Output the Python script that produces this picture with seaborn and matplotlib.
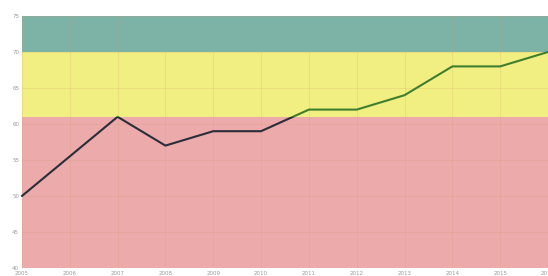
import matplotlib
matplotlib.use('Agg')
import matplotlib.pyplot as plt
import numpy as np
import pandas as pd
import seaborn as sns
from matplotlib.patches import Rectangle

# data
years = ['2005', '2006', '2007', '2008', '2009', '2010',
         '2011', '2012', '2013', '2014', '2015', '2016']
values = [50, 55.5, 61, 57, 59, 59, 62, 62, 64, 68, 68, 70]

# coloured bands (lower, upper, colour)
band_edges = [40, 61, 70, 75]
band_colors = ['#ecaaaa', '#f2ef82', '#7cb3a6']
line_colors = ['#2b2d3a', '#3f7e2e', '#2f6f86']

df = pd.DataFrame({'x': np.arange(len(years)), 'value': values})

sns.set_theme(style='white')
fig = plt.figure(figsize=(5.48, 2.76), dpi=100)
ax = fig.add_axes([0.040, 0.029, 0.960, 0.913])

for lo, hi, c in zip(band_edges[:-1], band_edges[1:], band_colors):
    ax.axhspan(lo, hi, color=c, zorder=0, lw=0)

ax.set_xlim(0, len(years) - 1)
ax.set_ylim(40, 75)

# draw the line once per band, clipped to that band, so its colour follows the zone
for lo, hi, c in zip(band_edges[:-1], band_edges[1:], line_colors):
    before = len(ax.lines)
    sns.lineplot(data=df, x='x', y='value', ax=ax, color=c, lw=1.5, zorder=3)
    clip = Rectangle((-1, lo), len(years) + 2, hi - lo, transform=ax.transData)
    for ln in ax.lines[before:]:
        ln.set_clip_path(clip)

ax.set_xticks(df['x'])
ax.set_xticklabels(years)
ax.set_yticks(range(40, 80, 5))
ax.grid(True, color='#c89a70', alpha=0.25, lw=0.6)
ax.set_axisbelow(False)
ax.tick_params(axis='both', labelsize=4, colors='#999999', length=0, pad=2)
ax.set_xlabel('')
ax.set_ylabel('')
for s in ax.spines.values():
    s.set_visible(False)

fig.savefig('out.png', dpi=100)
